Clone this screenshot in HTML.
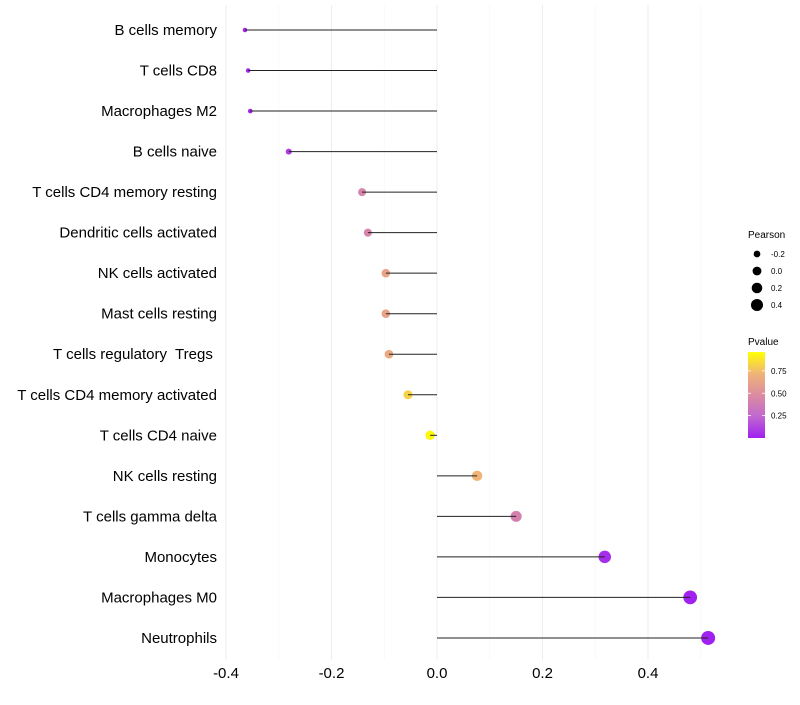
<!DOCTYPE html>
<html><head><meta charset="utf-8"><style>
body{margin:0;background:#fff;}
svg{font-family:"Liberation Sans",sans-serif;}
text{white-space:pre;}
</style></head><body>
<svg id="chart" width="800" height="700" viewBox="0 0 800 700"></svg>
<script>
const categories=["B cells memory","T cells CD8","Macrophages M2","B cells naive","T cells CD4 memory resting","Dendritic cells activated","NK cells activated","Mast cells resting","T cells regulatory  Tregs ","T cells CD4 memory activated","T cells CD4 naive","NK cells resting","T cells gamma delta","Monocytes","Macrophages M0","Neutrophils"];
const pearson=[-0.364,-0.358,-0.354,-0.281,-0.142,-0.131,-0.097,-0.097,-0.091,-0.055,-0.013,0.076,0.150,0.318,0.480,0.514];
const pvalues=[0.02,0.02,0.02,0.1,0.45,0.45,0.65,0.65,0.68,0.85,0.97,0.75,0.42,0.05,0.003,0.001];
const xTicks=[-0.4,-0.2,0.0,0.2,0.4];
const xTickLabels=["-0.4","-0.2","0.0","0.2","0.4"];
const xMinor=[-0.3,-0.1,0.1,0.3,0.5];
const sizeLegend=[-0.2,0.0,0.2,0.4];
const colorTicks=[0.25,0.50,0.75];

const NS="http://www.w3.org/2000/svg";
const svg=document.getElementById('chart');
function el(t,a,p){const e=document.createElementNS(NS,t);for(const k in a)e.setAttribute(k,a[k]);(p||svg).appendChild(e);return e;}
const x=v=>437+v*527.5;
const y=i=>30+i*40.53;
const r=v=>Math.sqrt(Math.max(1,5+(v+0.364)*50));
const stops=[[0,[160,32,240]],[0.25,[192,104,208]],[0.5,[220,140,160]],[0.75,[240,180,120]],[1,[255,255,0]]];
function col(p){p=Math.max(0,Math.min(1,p));for(let i=1;i<stops.length;i++){if(p<=stops[i][0]){const a=stops[i-1],b=stops[i],t=(p-a[0])/(b[0]-a[0]);const c=a[1].map((v,k)=>Math.round(v+(b[1][k]-v)*t));return `rgb(${c})`;}}return 'rgb(255,255,0)';}

xMinor.forEach(v=>{const l=el('line',{x1:x(v),x2:x(v),y1:5,y2:660,stroke:'#f5f5f5','stroke-width':0.6});

});
xTicks.forEach((v,i)=>{const l=el('line',{x1:x(v),x2:x(v),y1:5,y2:660,stroke:'#eeeeee','stroke-width':1});


const t=el('text',{x:x(v),y:678,'text-anchor':'middle','font-size':15,fill:'#000'});t.textContent=xTickLabels[i];

});

categories.forEach((c,i)=>{
const t=el('text',{x:217,y:y(i)+5,'text-anchor':'end','font-size':15,fill:'#000'});t.textContent=c;


const d=el('circle',{cx:x(pearson[i]),cy:y(i),r:r(pearson[i]),fill:col(pvalues[i])});


const l=el('line',{x1:x(0),x2:x(pearson[i]),y1:y(i),y2:y(i),stroke:'#222','stroke-width':1});


});

const lt=el('text',{x:748,y:238,'font-size':10});lt.textContent='Pearson';


sizeLegend.forEach((v,i)=>{const cy=254+i*17;
const c=el('circle',{cx:757,cy:cy,r:r(v)*0.92,fill:'#000'});


const t=el('text',{x:771,y:cy+3,'font-size':8});t.textContent=v.toFixed(1);

});

const ct=el('text',{x:748,y:345,'font-size':10});ct.textContent='Pvalue';


const defs=el('defs',{});const g=el('linearGradient',{id:'pg',x1:0,y1:1,x2:0,y2:0},defs);
stops.forEach(s=>el('stop',{offset:s[0],'stop-color':`rgb(${s[1]})`},g));
const pv=p=>438-p*89.5;
const bar=el('rect',{x:748,y:pv(0.96),width:17,height:pv(0)-pv(0.96),fill:'url(#pg)'});


colorTicks.forEach(v=>{
el('line',{x1:748,x2:751,y1:pv(v),y2:pv(v),stroke:'#fff','stroke-width':0.8});
el('line',{x1:762,x2:765,y1:pv(v),y2:pv(v),stroke:'#fff','stroke-width':0.8});
const t=el('text',{x:771,y:pv(v)+3,'font-size':8});t.textContent=v.toFixed(2);

});
</script>
</body></html>
